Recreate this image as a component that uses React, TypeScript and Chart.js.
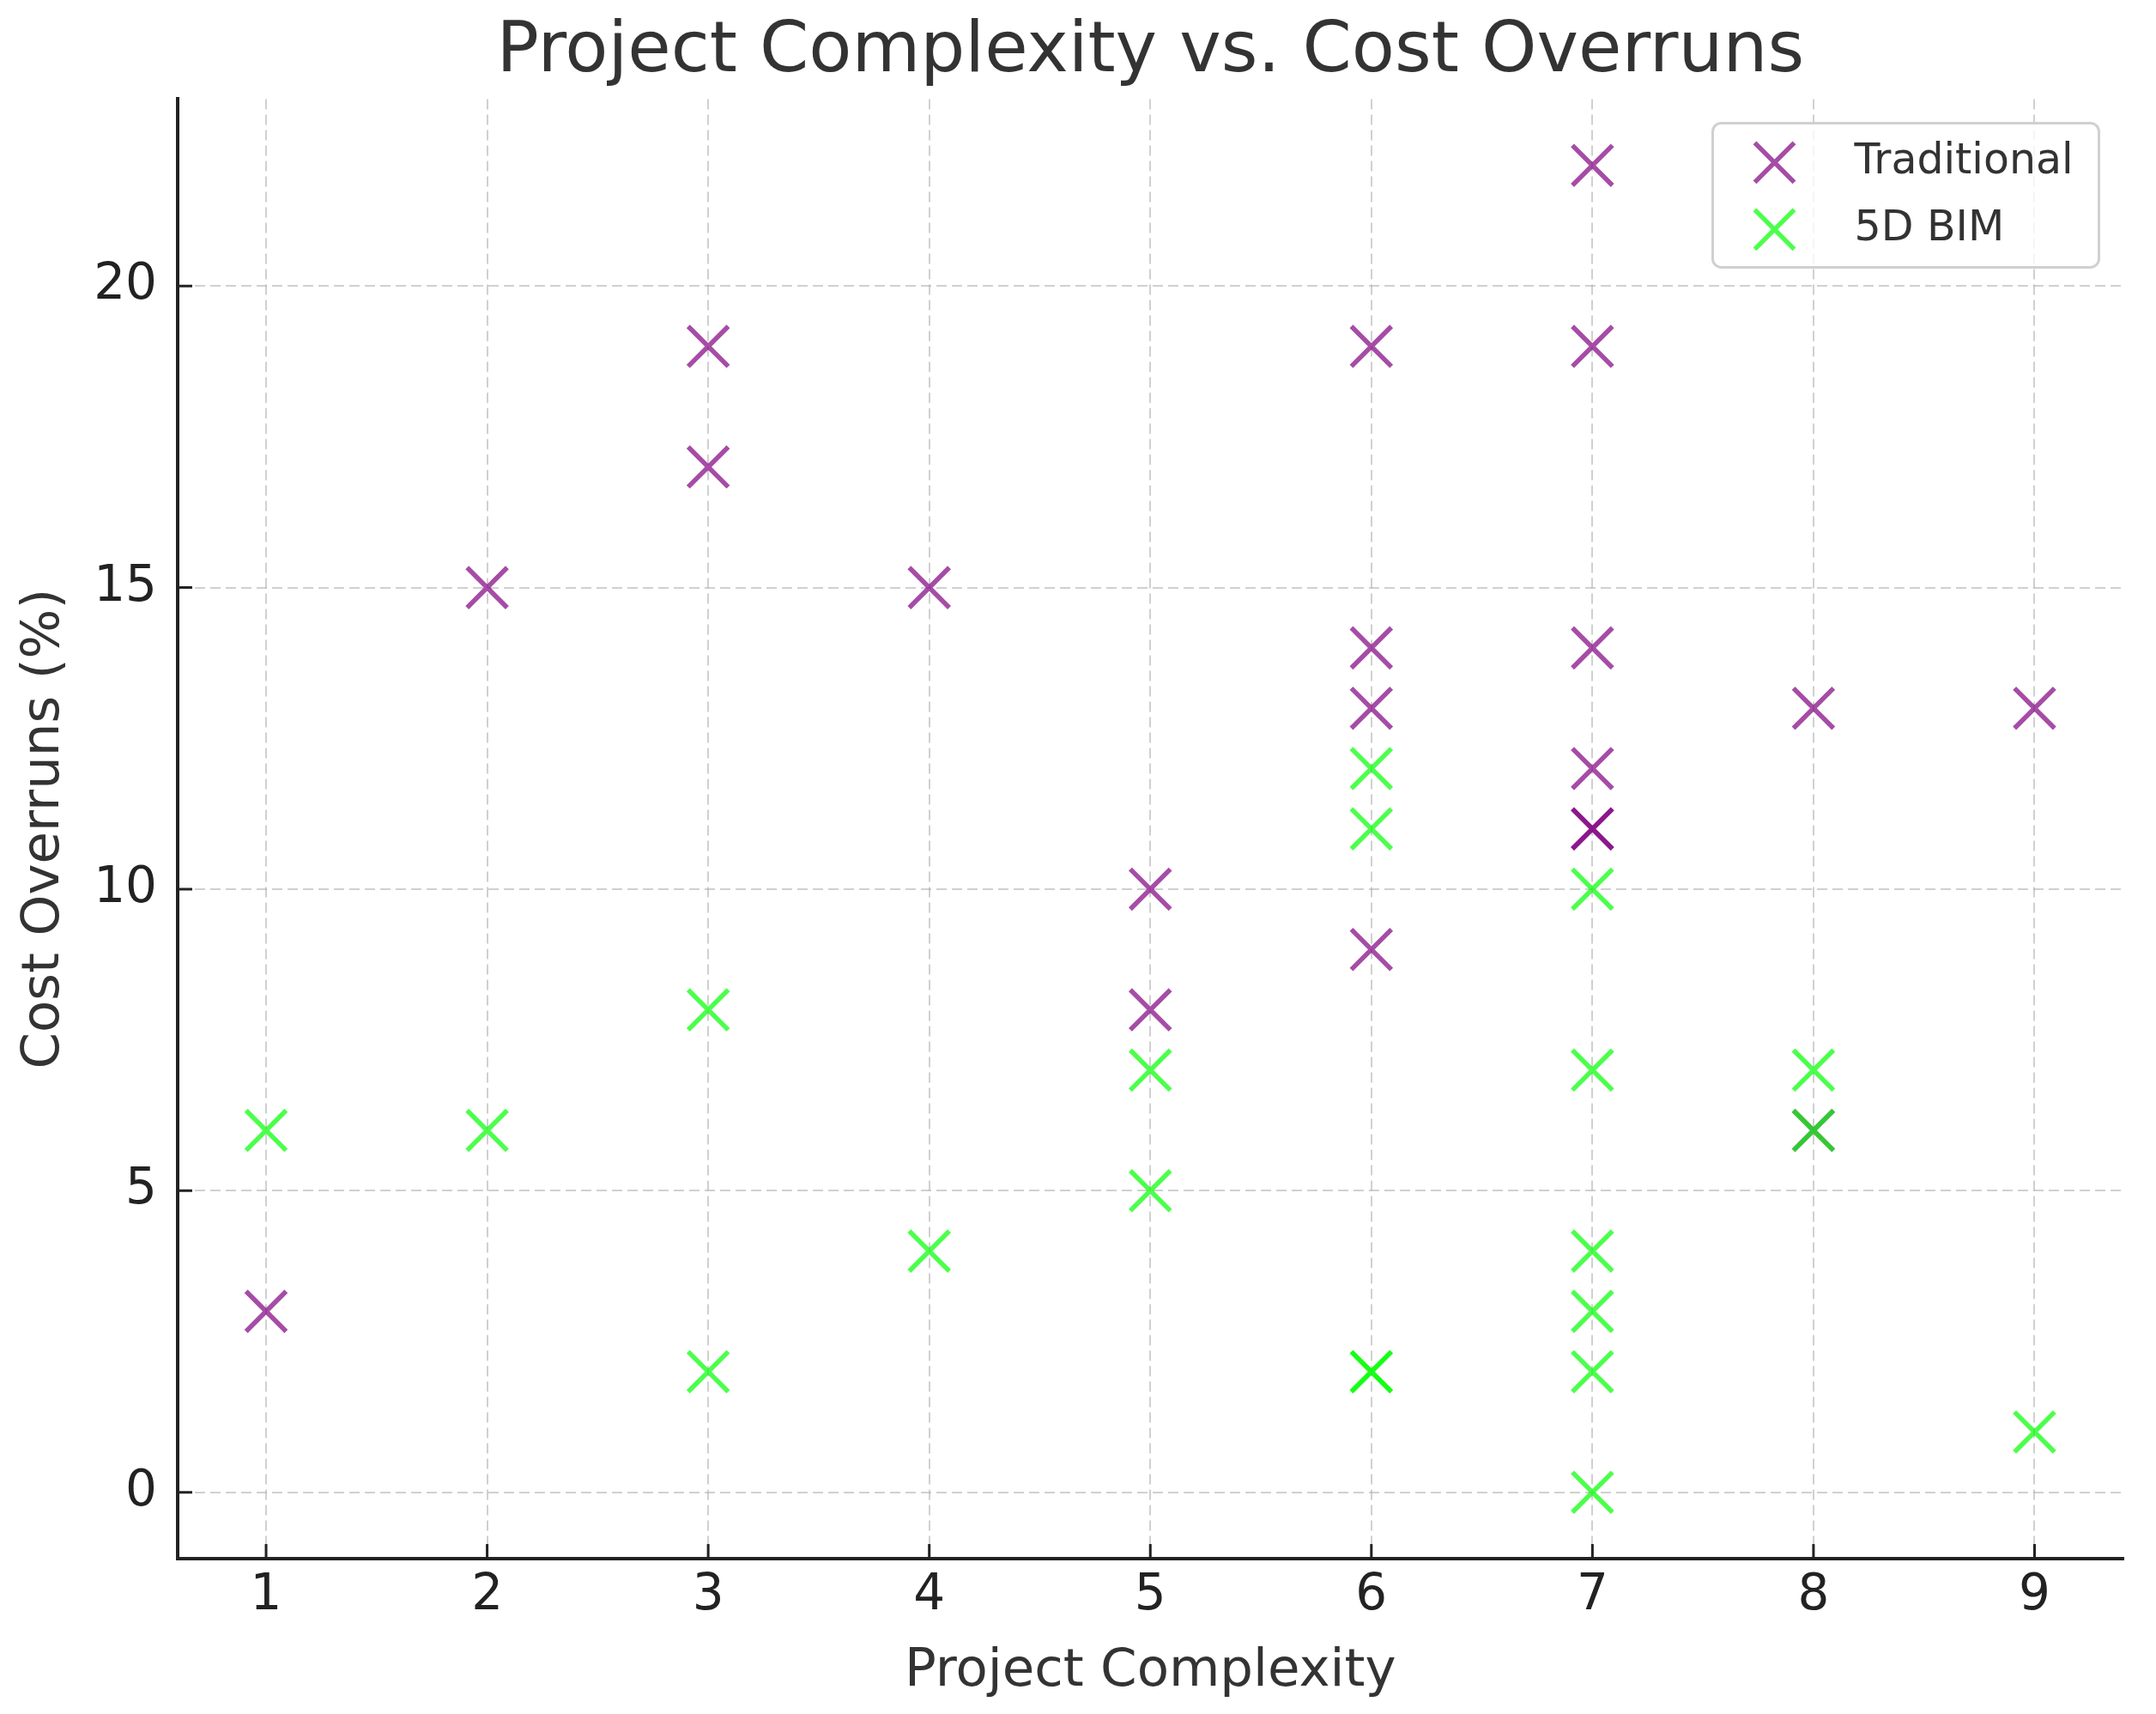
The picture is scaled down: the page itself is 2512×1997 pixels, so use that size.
import { useEffect, useRef } from 'react';
import { Chart, registerables } from 'chart.js';
Chart.register(...registerables);

// values
const complexityTraditional = [1, 2, 3, 3, 4, 5, 5, 6, 6, 6, 6, 7, 7, 7, 7, 7, 7, 8, 8, 9];
const overrunTraditional = [3, 15, 19, 17, 15, 10, 8, 19, 14, 13, 9, 22, 19, 14, 12, 11, 11, 13, 6, 13];
const complexityBim = [1, 2, 3, 3, 4, 5, 5, 6, 6, 6, 6, 7, 7, 7, 7, 7, 7, 8, 8, 9];
const overrunBim = [6, 6, 8, 2, 4, 7, 5, 12, 11, 2, 2, 10, 7, 4, 3, 2, 0, 7, 6, 1];
const seriesNames = ['Traditional', '5D BIM'];
const xTickValues = [1, 2, 3, 4, 5, 6, 7, 8, 9];
const yTickValues = [0, 5, 10, 15, 20];

const FONT = "'DejaVu Sans', sans-serif";
const PURPLE = 'rgba(128,0,128,0.7)';
const GREEN = 'rgba(0,255,0,0.7)';
const GRID = 'rgba(176,176,176,0.6)';

Chart.defaults.font.family = FONT;

// matplotlib style ticks pointing into the plot
const innerTicks = {
  id: 'innerTicks',
  beforeDatasetsDraw(chart: any) {
    const { ctx, chartArea, scales } = chart;
    ctx.save();
    ctx.strokeStyle = '#222';
    ctx.lineWidth = 3;
    ctx.beginPath();
    for (const t of scales.x.ticks) {
      const px = scales.x.getPixelForValue(t.value);
      ctx.moveTo(px, chartArea.bottom);
      ctx.lineTo(px, chartArea.bottom - 17);
    }
    for (const t of scales.y.ticks) {
      const py = scales.y.getPixelForValue(t.value);
      ctx.moveTo(chartArea.left, py);
      ctx.lineTo(chartArea.left + 17, py);
    }
    ctx.stroke();
    ctx.restore();
  },
};

const boxLegend = {
  id: 'boxLegend',
  afterDraw(chart: any) {
    const { ctx, chartArea } = chart;
    const w = 450;
    const h = 168;
    const x0 = chartArea.right - 28 - w;
    const y0 = chartArea.top + 28;
    ctx.save();
    ctx.beginPath();
    ctx.roundRect(x0, y0, w, h, 10);
    ctx.fillStyle = 'rgba(255,255,255,0.8)';
    ctx.fill();
    ctx.strokeStyle = '#d0d0d0';
    ctx.lineWidth = 3;
    ctx.stroke();
    chart.data.datasets.forEach((ds: any, i: number) => {
      const cy = y0 + 46 + i * 78;
      const cx = x0 + 72;
      const d = 23;
      ctx.beginPath();
      ctx.strokeStyle = ds.borderColor;
      ctx.lineWidth = 5.5;
      ctx.moveTo(cx - d, cy - d);
      ctx.lineTo(cx + d, cy + d);
      ctx.moveTo(cx + d, cy - d);
      ctx.lineTo(cx - d, cy + d);
      ctx.stroke();
      ctx.fillStyle = '#333';
      ctx.font = `49px ${FONT}`;
      ctx.textBaseline = 'middle';
      ctx.textAlign = 'left';
      ctx.fillText(ds.label, x0 + 165, cy);
    });
    ctx.restore();
  },
};

export default function App() {
  const canvasRef = useRef<HTMLCanvasElement>(null);

  useEffect(() => {
    const chart = new Chart(canvasRef.current!, {
      type: 'scatter',
      data: {
        datasets: [
          {
            label: seriesNames[0],
            data: complexityTraditional.map((x, i) => ({ x, y: overrunTraditional[i] })),
            borderColor: PURPLE,
            backgroundColor: PURPLE,
            pointStyle: 'crossRot',
            pointRadius: 33,
            pointBorderWidth: 5.5,
            order: 1,
          },
          {
            label: seriesNames[1],
            data: complexityBim.map((x, i) => ({ x, y: overrunBim[i] })),
            borderColor: GREEN,
            backgroundColor: GREEN,
            pointStyle: 'crossRot',
            pointRadius: 33,
            pointBorderWidth: 5.5,
            order: 0,
          },
        ],
      },
      options: {
        responsive: false,
        animation: false,
        events: [],
        layout: { padding: { left: 0, right: 19, top: 0, bottom: 0 } },
        plugins: {
          legend: { display: false },
          tooltip: { enabled: false },
          title: {
            display: true,
            text: 'Project Complexity vs. Cost Overruns',
            color: '#333',
            font: { family: FONT, size: 82, weight: 'normal' },
            padding: { top: 13, bottom: 4 },
            fullSize: false,
          },
        },
        scales: {
          x: {
            type: 'linear',
            min: 0.6,
            max: 9.4,
            afterBuildTicks: (s: any) => { s.ticks = xTickValues.map(v => ({ value: v })); },
            afterFit: (s: any) => { s.height = 181; },
            grid: { color: GRID, lineWidth: 2, drawTicks: false },
            border: { display: true, color: '#222', width: 4, dash: [12, 6] },
            ticks: {
              color: '#222',
              font: { family: FONT, size: 58 },
              padding: 9,
              autoSkip: false,
              maxRotation: 0,
            },
            title: {
              display: true,
              text: 'Project Complexity',
              color: '#333',
              font: { family: FONT, size: 61 },
              padding: { top: 0, bottom: 12 },
            },
          },
          y: {
            type: 'linear',
            min: -1.1,
            max: 23.1,
            afterBuildTicks: (s: any) => { s.ticks = yTickValues.map(v => ({ value: v })); },
            afterFit: (s: any) => { s.width = 207; },
            grid: { color: GRID, lineWidth: 2, drawTicks: false },
            border: { display: true, color: '#222', width: 4, dash: [12, 6] },
            ticks: {
              color: '#222',
              font: { family: FONT, size: 58 },
              padding: 24,
            },
            title: {
              display: true,
              text: 'Cost Overruns (%)',
              color: '#333',
              font: { family: FONT, size: 61 },
              padding: { top: 16, bottom: 0 },
            },
          },
        },
      },
      plugins: [innerTicks, boxLegend],
    });
    return () => { chart.destroy(); };
  }, []);

  return (
    <div style={{ position: 'fixed', left: 0, top: 0, width: 2512, height: 1997, background: '#fff' }}>
      <canvas ref={canvasRef} width={2512} height={1997} />
    </div>
  );
}
